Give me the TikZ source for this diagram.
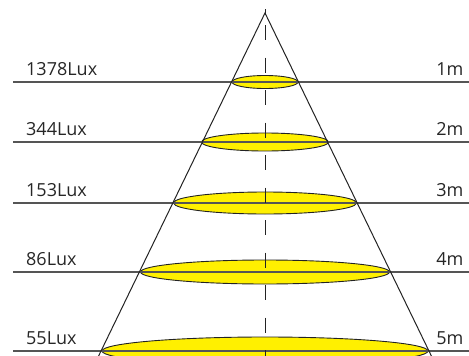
\documentclass[tikz,border=0pt]{standalone}
\usepackage{fontspec}
\setmainfont{Open Sans}
\usetikzlibrary{shapes.geometric}
\definecolor{beam}{RGB}{255,240,0}
\definecolor{levelgray}{RGB}{85,85,85}
\definecolor{conegray}{RGB}{35,35,35}
\tikzset{
  spot/.style={ellipse, draw=conegray, line width=0.9pt, fill=beam, inner sep=0pt},
  levelline/.style={draw=levelgray, line width=1.2pt},
  coneline/.style={draw=conegray, line width=1pt},
  axisline/.style={draw=conegray, line width=1pt, dash pattern={on 6pt off 10pt on 15pt off 17.5pt on 15pt off 17.5pt on 15pt off 17.5pt on 15pt off 17.5pt on 15pt off 17.5pt on 15pt off 17.5pt on 15pt off 17.5pt on 15pt off 17.5pt on 15pt off 17.5pt on 15pt off 17.5pt on 15pt off 17.5pt}},
  luxlabel/.style={anchor=base west, inner sep=0pt, font=\fontsize{18}{21}\selectfont, text=black!85},
  distlabel/.style={anchor=base east, inner sep=0pt, font=\fontsize{18}{21}\selectfont, text=black!85}
}
\begin{document}
\begin{tikzpicture}[x=1pt, y=-1pt]
\useasboundingbox (0,0) rectangle (469,356);
% ellipses
\node[spot, minimum width=66pt, minimum height=13pt] (e1) at (265,82) {};
\node[spot, minimum width=127pt, minimum height=18pt] (e2) at (265,142) {};
\node[spot, minimum width=183pt, minimum height=22pt] (e3) at (265,203) {};
\node[spot, minimum width=249pt, minimum height=24pt] (e4) at (265,272) {};
\node[spot, minimum width=326pt, minimum height=28pt] (e5) at (265,351) {};
% level lines
\foreach \i/\y in {1/82,2/142,3/203,4/272,5/351}{
  \coordinate (l\i) at (13,\y);
  \coordinate (r\i) at (469,\y);
  \draw[levelline] (l\i) -- (r\i);
}
% cone
\coordinate (apex) at (265,13);
\coordinate (bl) at (98.6,356);
\coordinate (br) at (431.4,356);
\draw[coneline] (bl) -- (apex) -- (br);
% axis
\coordinate (atop) at (265,9);
\coordinate (abot) at (265,356);
\draw[axisline] (atop) -- (abot);
% labels
\node[luxlabel] (t1) at (26,75.5) {1378Lux};
\node[luxlabel] (t2) at (26,135.5) {344Lux};
\node[luxlabel] (t3) at (26,196.5) {153Lux};
\node[luxlabel] (t4) at (26,265.5) {86Lux};
\node[luxlabel] (t5) at (26,344.5) {55Lux};
\node[distlabel] (d1) at (463.5,75.5) {1m};
\node[distlabel] (d2) at (463.5,135.5) {2m};
\node[distlabel] (d3) at (463.5,196.5) {3m};
\node[distlabel] (d4) at (463.5,265.5) {4m};
\node[distlabel] (d5) at (463.5,344.5) {5m};
\end{tikzpicture}
\end{document}
